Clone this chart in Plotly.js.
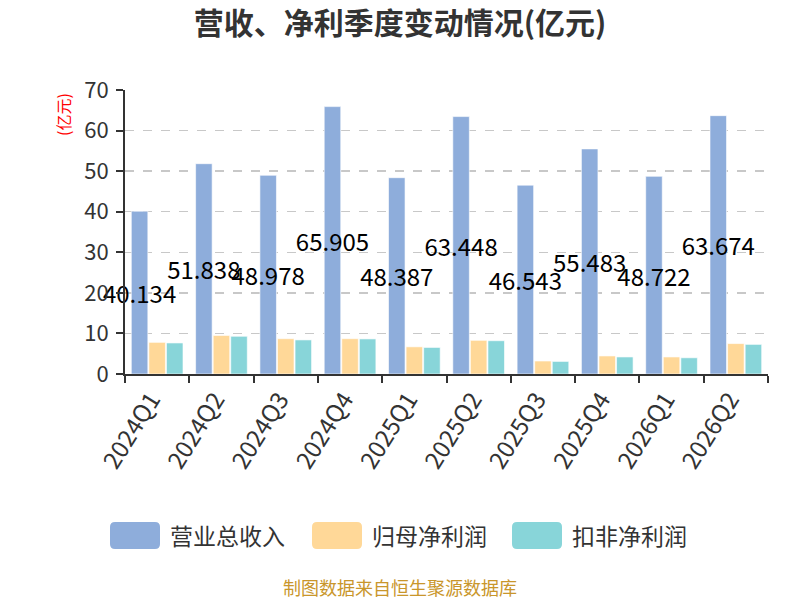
<!DOCTYPE html>
<html>
<head>
<meta charset="utf-8">
<script src="https://cdn.plot.ly/plotly-3.0.1.min.js"></script>
<style>
  html, body { margin: 0; padding: 0; background: #fff; }
  #chart { width: 800px; height: 600px; }
</style>
</head>
<body>
<div id="chart"></div>
<script>
// Data
const quarters = ['2024Q1', '2024Q2', '2024Q3', '2024Q4', '2025Q1', '2025Q2', '2025Q3', '2025Q4', '2026Q1', '2026Q2'];
const revenue = [40.134, 51.838, 48.978, 65.905, 48.387, 63.448, 46.543, 55.483, 48.722, 63.674];
const netProfit = [7.8, 9.5, 8.7, 8.7, 6.7, 8.3, 3.2, 4.45, 4.2, 7.5];
const netProfitDeducted = [7.65, 9.3, 8.4, 8.65, 6.55, 8.2, 3.1, 4.2, 4.0, 7.3];
const seriesNames = ['营业总收入', '归母净利润', '扣非净利润'];
const colors = ['#8EADDB', '#FFD898', '#88D5D9'];

const FONT = 'Noto Sans CJK SC, Noto Sans, sans-serif';

// plot area in pixels: x 125..768, y 90..374
const PL = 125, PW = 643, PT = 90, PH = 284;
const px = x => (x - PL) / PW;
const py = y => (PT + PH - y) / PH;

function barTrace(values, i, withText) {
    const t = {
        x: quarters,
        y: values,
        name: seriesNames[i],
        type: 'bar',
        cliponaxis: false,
        marker: { color: colors[i], line: { color: 'rgba(255,255,255,0.6)', width: 1 } },
        hoverinfo: 'skip',
        showlegend: false
    };
    if (withText) {
        t.text = values.map(v => v.toFixed(3));
        t.textposition = 'inside';
        t.insidetextanchor = 'middle';
        t.constraintext = 'none';
        t.textangle = 0;
        t.insidetextfont = { size: 24, color: '#000', family: FONT };
    }
    return t;
}

const traces = [
    barTrace(revenue, 0, true),
    barTrace(netProfit, 1, false),
    barTrace(netProfitDeducted, 2, false)
];

// Legend drawn as rounded swatches + labels (bottom of chart)
const legendX = [110, 312, 512];
const shapes = [];
const annotations = [];
legendX.forEach((lx, i) => {
    const x0 = px(lx), x1 = px(lx + 50);
    const y0 = py(549), y1 = py(522);
    const rx = 5 / PW, ry = 5 / PH;
    shapes.push({
        type: 'path', xref: 'paper', yref: 'paper',
        path: `M ${x0 + rx} ${y1} L ${x1 - rx} ${y1} Q ${x1} ${y1} ${x1} ${y1 - ry} ` +
              `L ${x1} ${y0 + ry} Q ${x1} ${y0} ${x1 - rx} ${y0} L ${x0 + rx} ${y0} ` +
              `Q ${x0} ${y0} ${x0} ${y0 + ry} L ${x0} ${y1 - ry} Q ${x0} ${y1} ${x0 + rx} ${y1} Z`,
        fillcolor: colors[i], line: { width: 0 }
    });
    annotations.push({
        xref: 'paper', yref: 'paper',
        x: px(lx + 58), y: py(535),
        xanchor: 'left', yanchor: 'middle',
        text: seriesNames[i], showarrow: false,
        font: { size: 23, color: '#333', family: FONT }
    });
});

// y-axis unit label
annotations.push({
    xref: 'paper', yref: 'paper',
    x: px(63), y: py(115),
    xanchor: 'center', yanchor: 'middle',
    text: '(亿元)', textangle: -90, showarrow: false,
    font: { size: 16, color: '#FF0000', family: FONT }
});

// Source footer
annotations.push({
    xref: 'paper', yref: 'paper',
    x: px(400), y: py(587),
    xanchor: 'center', yanchor: 'middle',
    text: '制图数据来自恒生聚源数据库', showarrow: false,
    font: { size: 18, color: '#C9962B', family: FONT }
});

const layout = {
    width: 800,
    height: 600,
    paper_bgcolor: '#fff',
    plot_bgcolor: '#fff',
    font: { family: FONT, color: '#333' },
    margin: { t: PT, b: 600 - PT - PH, l: PL, r: 800 - PL - PW },
    title: {
        text: '<b>营收、净利季度变动情况(亿元)</b>',
        x: 0.5, xanchor: 'center',
        y: 1 - 23 / 600, yanchor: 'middle',
        font: { size: 30, color: '#333', family: FONT }
    },
    barmode: 'group',
    bargap: 0.18,
    bargroupgap: 0.06,
    xaxis: {
        type: 'category',
        tickson: 'boundaries',
        ticks: 'outside',
        ticklen: 7,
        tickwidth: 2,
        tickcolor: '#333',
        tickangle: -58,
        ticklabelshift: -6,
        showline: true,
        linecolor: '#333',
        linewidth: 2,
        showgrid: false,
        tickfont: { size: 24, color: '#333', family: FONT }
    },
    yaxis: {
        range: [0, 70],
        dtick: 10,
        ticks: 'outside',
        ticklen: 7,
        tickwidth: 2,
        tickcolor: '#333',
        ticklabelstandoff: 3,
        showline: true,
        linecolor: '#333',
        linewidth: 2,
        showgrid: true,
        gridcolor: '#C8C8C8',
        griddash: 'dash',
        gridwidth: 1.5,
        zeroline: false,
        tickfont: { size: 22, color: '#333', family: FONT }
    },
    shapes: shapes,
    annotations: annotations,
    showlegend: false
};

Plotly.newPlot('chart', traces, layout, { displayModeBar: false, staticPlot: true });
</script>
</body>
</html>
